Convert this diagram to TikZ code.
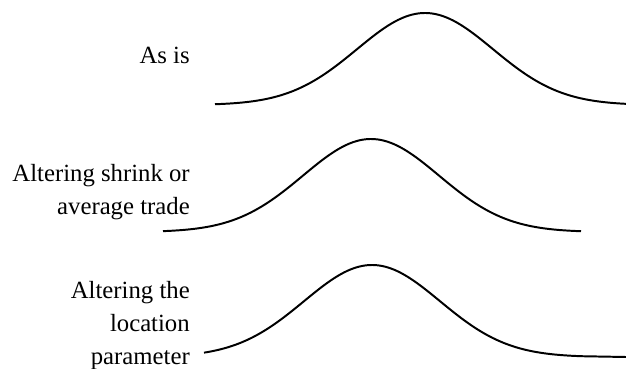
\documentclass[tikz,border=0pt]{standalone}
\usepackage{fontspec}
\setmainfont{Liberation Serif}
\usepackage{tikz}
\usetikzlibrary{positioning}

\begin{document}
\begin{tikzpicture}[
  label/.style={align=right, inner sep=0pt, anchor=base east, font=\fontsize{17.6}{23.2}\selectfont},
  curve/.style={line width=1.4pt, black, line join=round},
  declare function={bell(\x,\c,\h)=\h*exp(-((\x-\c)/1.7)^2/2);}
]
\useasboundingbox (0,0) rectangle (15.65,9.2);

\node[label] (asis) at (4.75,7.625) {As is};
\node[label] (shrink) at (4.75,3.85) {Altering shrink or\\average trade};
\node[label] (location) at (4.75,0.1) {Altering the\\location\\parameter};

% as is
\draw[curve] plot[domain=5.375:15.65, samples=120, smooth] (\x,{6.575+bell(\x,10.625,2.3)});
% shrink / average trade
\draw[curve] plot[domain=4.075:14.525, samples=120, smooth] (\x,{3.4+bell(\x,9.275,2.325)});
% location parameter
\draw[curve] plot[domain=5.1:14.55, samples=120, smooth] (\x,{0.275+bell(\x,9.3,2.3)}) -- (15.65,0.275);
\end{tikzpicture}
\end{document}
